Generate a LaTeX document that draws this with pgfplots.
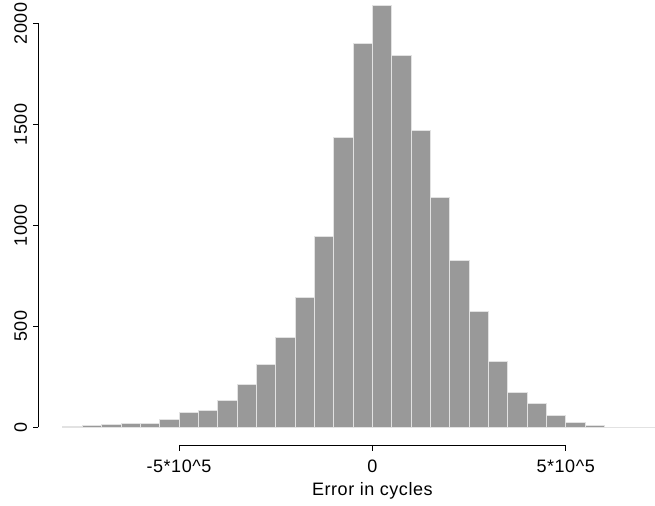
\documentclass[border=0pt]{standalone}
\usepackage{pgfplots}
\pgfplotsset{compat=1.18}
\usepackage{fontspec}
\setmainfont{Liberation Sans}[LetterSpace=3]
\definecolor{barfill}{HTML}{999999}
\definecolor{barline}{HTML}{E2E2E2}
\begin{document}
\fontsize{18bp}{21bp}\selectfont
\begin{tikzpicture}[every node/.style={font=\fontsize{18bp}{21bp}\selectfont, inner sep=0pt}]
\path[use as bounding box] (0,0) rectangle (655bp,506bp);
\begin{axis}[
  at={(0,0)}, anchor=south west,
  scale only axis, width=655bp, height=506bp,
  xmin=-962900, xmax=730900, ymin=-390.2, ymax=2115.4,
  axis lines=none, clip=false,
]
\addplot[ybar interval, fill=barfill, draw=barline, line width=1bp] coordinates {
(-800000,3) (-750000,10) (-700000,15) (-650000,20) (-600000,20)
(-550000,40) (-500000,73) (-450000,84) (-400000,134) (-350000,210)
(-300000,309) (-250000,446) (-200000,642) (-150000,942) (-100000,1433)
(-50000,1898) (0,2090) (50000,1839) (100000,1467) (150000,1136)
(200000,824) (250000,571) (300000,325) (350000,170) (400000,117)
(450000,60) (500000,25) (550000,8) (600000,0) (650000,0) (700000,0) (750000,0)
};
% x axis (R style, detached)
\draw[line width=0.8bp] (axis cs:-500000,-88.1) -- (axis cs:500000,-88.1);
\draw[line width=0.8bp] (axis cs:-500000,-88.1) -- ([yshift=-5.8bp]axis cs:-500000,-88.1);
\draw[line width=0.8bp] (axis cs:0,-88.1) -- ([yshift=-5.8bp]axis cs:0,-88.1);
\draw[line width=0.8bp] (axis cs:500000,-88.1) -- ([yshift=-5.8bp]axis cs:500000,-88.1);
\node[anchor=base] at ([yshift=-27.3bp]axis cs:-500000,-88.1) {-5*10\textasciicircum 5};
\node[anchor=base] at ([yshift=-27.3bp]axis cs:0,-88.1) {0};
\node[anchor=base] at ([yshift=-27.3bp]axis cs:500000,-88.1) {5*10\textasciicircum 5};
\node[anchor=base] at ([yshift=-51bp]axis cs:0,-88.1) {Error in cycles};
% y axis
\draw[line width=0.8bp] (axis cs:-863900,0) -- (axis cs:-863900,2000);
\draw[line width=0.8bp] (axis cs:-863900,0) -- ([xshift=-5.5bp]axis cs:-863900,0);
\draw[line width=0.8bp] (axis cs:-863900,500) -- ([xshift=-5.5bp]axis cs:-863900,500);
\draw[line width=0.8bp] (axis cs:-863900,1000) -- ([xshift=-5.5bp]axis cs:-863900,1000);
\draw[line width=0.8bp] (axis cs:-863900,1500) -- ([xshift=-5.5bp]axis cs:-863900,1500);
\draw[line width=0.8bp] (axis cs:-863900,2000) -- ([xshift=-5.5bp]axis cs:-863900,2000);
\node[rotate=90, anchor=base] at ([xshift=-11.3bp]axis cs:-863900,0) {0};
\node[rotate=90, anchor=base] at ([xshift=-11.3bp]axis cs:-863900,500) {500};
\node[rotate=90, anchor=base] at ([xshift=-11.3bp]axis cs:-863900,1000) {1000};
\node[rotate=90, anchor=base] at ([xshift=-11.3bp]axis cs:-863900,1500) {1500};
\node[rotate=90, anchor=base] at ([xshift=-11.3bp]axis cs:-863900,2000) {2000};
\end{axis}
\end{tikzpicture}
\end{document}
